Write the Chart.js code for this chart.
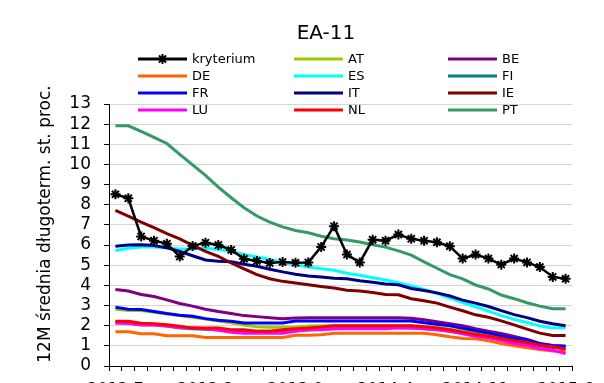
<!DOCTYPE html>
<html>
<head>
<meta charset="utf-8">
<script src="https://cdn.jsdelivr.net/npm/chart.js@4/dist/chart.umd.min.js"></script>
<style>
html,body{margin:0;padding:0;background:#fff;overflow:hidden;}
#wrap{width:604px;height:400px;}
</style>
</head>
<body>
<div id="wrap"><canvas id="c" width="604" height="400"></canvas></div>
<script>
const chartTitle = "EA-11";
const yAxisTitle = "12M średnia długoterm. st. proc.";
const labels = ["2012:7","2012:8","2012:9","2012:10","2012:11","2012:12",
  "2013:1","2013:2","2013:3","2013:4","2013:5","2013:6","2013:7","2013:8","2013:9","2013:10","2013:11","2013:12",
  "2014:1","2014:2","2014:3","2014:4","2014:5","2014:6","2014:7","2014:8","2014:9","2014:10","2014:11","2014:12",
  "2015:1","2015:2","2015:3","2015:4","2015:5","2015:6"];
const yTicks = [0,1,2,3,4,5,6,7,8,9,10,11,12,13];

const kryterium = [8.52,8.32,6.43,6.22,6.07,5.43,5.96,6.12,6.0,5.76,5.32,5.21,5.11,5.16,5.12,5.14,5.91,6.94,5.53,5.14,6.27,6.22,6.52,6.31,6.22,6.14,5.94,5.33,5.53,5.33,5.03,5.33,5.14,4.91,4.42,4.33];
const AT = [2.82,2.75,2.75,2.67,2.58,2.5,2.42,2.33,2.23,2.15,2.03,1.95,1.92,1.92,1.93,1.98,2.0,2.0,2.0,2.0,2.0,2.0,2.0,2.0,1.95,1.92,1.82,1.73,1.62,1.5,1.4,1.32,1.2,1.07,0.95,0.87];
const BE = [3.8,3.72,3.55,3.45,3.28,3.1,2.97,2.82,2.7,2.6,2.5,2.45,2.4,2.35,2.38,2.4,2.4,2.4,2.4,2.4,2.4,2.4,2.4,2.37,2.3,2.2,2.1,2.0,1.85,1.72,1.62,1.47,1.32,1.12,1.02,0.98];
const DE = [1.7,1.7,1.6,1.6,1.5,1.5,1.5,1.42,1.42,1.42,1.42,1.42,1.42,1.42,1.52,1.52,1.55,1.63,1.63,1.63,1.63,1.63,1.63,1.63,1.63,1.55,1.45,1.37,1.35,1.25,1.12,1.0,0.9,0.82,0.75,0.73];
const ES = [5.73,5.84,5.91,5.91,5.86,5.81,5.81,5.84,5.78,5.69,5.53,5.41,5.28,5.14,5.03,4.91,4.83,4.75,4.6,4.5,4.38,4.27,4.13,3.97,3.8,3.6,3.37,3.15,2.94,2.72,2.5,2.32,2.16,1.99,1.88,1.9];
const FI = [2.15,2.12,2.05,2.05,1.98,1.9,1.85,1.82,1.8,1.75,1.72,1.72,1.72,1.72,1.75,1.78,1.82,1.85,1.88,1.9,1.9,1.9,1.9,1.88,1.85,1.8,1.72,1.62,1.52,1.45,1.35,1.25,1.15,1.02,0.92,0.9];
const FR = [2.92,2.82,2.8,2.7,2.6,2.52,2.47,2.35,2.27,2.22,2.13,2.13,2.13,2.13,2.23,2.23,2.23,2.23,2.23,2.23,2.23,2.23,2.23,2.23,2.15,2.07,2.0,1.87,1.75,1.63,1.5,1.38,1.3,1.1,1.0,0.98];
const IT = [5.94,6.0,6.02,5.98,5.86,5.69,5.47,5.26,5.2,5.17,5.05,4.95,4.8,4.67,4.55,4.47,4.42,4.36,4.33,4.23,4.15,4.07,4.03,3.85,3.75,3.63,3.47,3.27,3.12,2.95,2.75,2.55,2.4,2.22,2.1,2.0];
const IE = [7.72,7.44,7.14,6.86,6.57,6.31,5.99,5.69,5.44,5.11,4.82,4.53,4.33,4.2,4.12,4.03,3.95,3.87,3.76,3.72,3.65,3.55,3.53,3.34,3.24,3.12,2.92,2.74,2.54,2.42,2.24,2.04,1.83,1.63,1.51,1.51];
const LU = [2.13,2.12,2.03,2.03,1.98,1.9,1.9,1.85,1.77,1.68,1.63,1.63,1.63,1.63,1.72,1.8,1.8,1.85,1.85,1.85,1.85,1.85,1.9,1.88,1.85,1.8,1.72,1.6,1.48,1.4,1.28,1.12,1.03,0.87,0.78,0.62];
const NL = [2.22,2.22,2.12,2.1,2.05,1.97,1.88,1.88,1.88,1.8,1.8,1.72,1.72,1.8,1.85,1.88,1.93,2.0,2.0,2.0,2.0,2.0,2.0,2.0,1.95,1.88,1.8,1.68,1.57,1.48,1.37,1.25,1.17,1.03,0.95,0.83];
const PT = [11.92,11.92,11.64,11.34,11.04,10.5,9.98,9.46,8.88,8.35,7.85,7.44,7.14,6.9,6.72,6.61,6.44,6.31,6.25,6.15,6.02,5.9,5.71,5.5,5.17,4.85,4.53,4.32,4.02,3.82,3.52,3.34,3.14,2.97,2.84,2.84];

const seriesNames = ["kryterium","AT","BE","DE","ES","FI","FR","IT","IE","LU","NL","PT"];
const seriesData = [kryterium,AT,BE,DE,ES,FI,FR,IT,IE,LU,NL,PT];
const seriesColors = ["#000000","#99cc00","#800080","#ff6600","#00ffff","#008080","#0000ff","#000080","#800000","#ff00ff","#ff0000","#339966"];

const FONT = "'DejaVu Sans', sans-serif";

const datasets = seriesNames.map((n,i)=>{
  const isK = i===0;
  return {
    label:n,
    data:seriesData[i],
    borderColor:seriesColors[i],
    backgroundColor:seriesColors[i],
    borderWidth:isK?2.5:3,
    pointStyle:'star',
    pointRadius:isK?5:0,
    pointBorderWidth:isK?2:0,
    pointBorderColor:seriesColors[i],
    tension:0,
    fill:false,
    order:isK?0:(seriesNames.length-i)
  };
});

const decor = {
  id:'decor',
  afterDraw(chart){
    const ctx = chart.ctx;
    ctx.save();
    ctx.fillStyle='#000';
    ctx.font = "20px " + FONT;
    ctx.textAlign='center';
    ctx.textBaseline='middle';
    ctx.fillText(chartTitle, 326, 34);
    ctx.save();
    ctx.translate(46, 224);
    ctx.rotate(-Math.PI/2);
    ctx.font = "17px " + FONT;
    ctx.fillText(yAxisTitle, 0, 0);
    ctx.restore();
    const colX = [138, 294, 448];
    ctx.font = "13px " + FONT;
    ctx.textAlign='left';
    chart.data.datasets.forEach((ds,k)=>{
      const col = k%3, row = Math.floor(k/3);
      const x0 = colX[col], x1 = x0+49, y = 59 + 17*row;
      ctx.strokeStyle = ds.borderColor;
      ctx.lineWidth = 3;
      ctx.beginPath(); ctx.moveTo(x0,y); ctx.lineTo(x1,y); ctx.stroke();
      if (ds.pointRadius>0){
        const cx=(x0+x1)/2, r=5;
        ctx.lineWidth=2;
        ctx.beginPath();
        ctx.moveTo(cx-r,y); ctx.lineTo(cx+r,y);
        ctx.moveTo(cx,y-r); ctx.lineTo(cx,y+r);
        const d=r*Math.SQRT1_2;
        ctx.moveTo(cx-d,y-d); ctx.lineTo(cx+d,y+d);
        ctx.moveTo(cx-d,y+d); ctx.lineTo(cx+d,y-d);
        ctx.stroke();
      }
      ctx.fillStyle='#000';
      ctx.fillText(ds.label, x1+5, y+1);
    });
    ctx.restore();
  }
};

new Chart(document.getElementById('c'), {
  type:'line',
  data:{labels:labels, datasets:datasets},
  options:{
    responsive:false,
    animation:false,
    layout:{padding:{top:104,right:32,left:0,bottom:0}},
    plugins:{legend:{display:false},title:{display:false},tooltip:{enabled:false}},
    scales:{
      x:{
        offset:true,
        afterFit(s){ s.height = 34; },
        grid:{display:true,drawOnChartArea:false,drawTicks:true,tickLength:5,offset:true,tickColor:'#000',color:'#000'},
        border:{display:true,color:'#000',width:1},
        ticks:{autoSkip:false,maxRotation:0,minRotation:0,padding:9,color:'#000',font:{family:FONT,size:16},
          callback:function(v,i){ return i%7===0 ? this.getLabelForValue(v) : ''; }}
      },
      y:{
        min:yTicks[0], max:yTicks[yTicks.length-1],
        afterFit(s){ s.width = 109; },
        afterBuildTicks(s){ s.ticks = yTicks.map(v=>({value:v})); },
        grid:{color:'#d4d4d4',lineWidth:1,tickLength:5,tickColor:'#000'},
        border:{display:true,color:'#000',width:1},
        ticks:{autoSkip:false,stepSize:1,padding:13,color:'#000',font:{family:FONT,size:17}}
      }
    }
  },
  plugins:[decor]
});
</script>
</body>
</html>
